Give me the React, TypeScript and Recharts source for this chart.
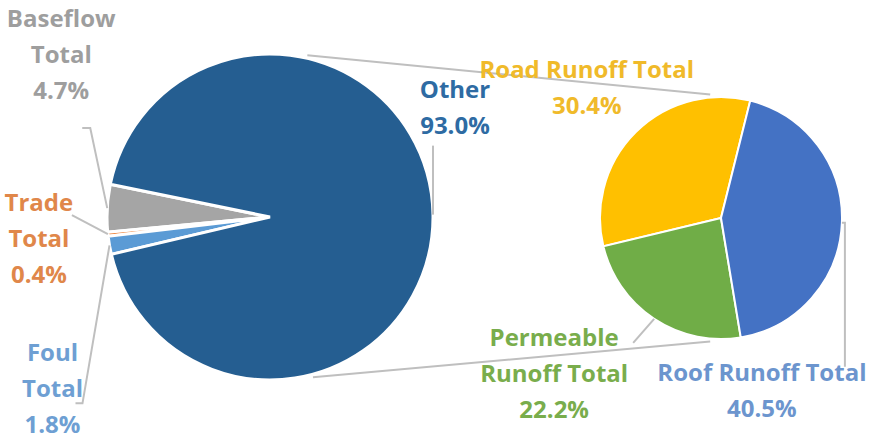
import React from "react";
import { PieChart, Pie, Cell, Customized } from "recharts";

// main pie (share of total flow)
const mainNames = ["Baseflow Total", "Trade Total", "Foul Total", "Other"];
const mainValues = [4.7, 0.4, 1.8, 93.0];
const mainColors = ["#A5A5A5", "#ED7D31", "#5B9BD5", "#255E91"];
const mainTextColors = ["#9E9E9E", "#E0874A", "#6E9FD3", "#2E6BA3"];

// secondary pie (breakdown of "Other")
const subNames = ["Road Runoff Total", "Permeable Runoff Total", "Roof Runoff Total"];
const subValues = [30.4, 22.2, 40.5];
const subColors = ["#FFC000", "#70AD47", "#4472C4"];
const subTextColors = ["#F0BA2A", "#79AD4C", "#6C95CE"];

const mainData = mainNames.map((name, i) => ({ name, value: mainValues[i] }));
const subData = subNames.map((name, i) => ({ name, value: subValues[i] }));

const MAIN = { cx: 270, cy: 217, r: 163, start: 168.4 };
const SUB = { cx: 721, cy: 218, r: 121, start: 76 };

const FONT = "'Open Sans', 'DejaVu Sans', sans-serif";
const LINE_GAP = 36;
const LEADER = "#BFBFBF";

// label layout, offsets from the point where the slice's mid angle meets the rim
type LabelLayout = { wrap: number[]; dx: number; dy: number; leader: [number, number][] };
const labelLayout: Record<string, LabelLayout> = {
  "Baseflow Total": { wrap: [1, 1], dx: -46, dy: -191, leader: [[-17, -80], [-25, -80]] },
  "Trade Total": { wrap: [1, 1], dx: -69, dy: -33, leader: [[-36, -19]] },
  "Foul Total": { wrap: [1, 1], dx: -57, dy: 106, leader: [[-27, 158], [-34, 158]] },
  Other: { wrap: [1], dx: 22, dy: -126, leader: [[0, -69]] },
  "Road Runoff Total": { wrap: [3], dx: -49, dy: -64, leader: [] },
  "Permeable Runoff Total": { wrap: [1, 2], dx: -100, dy: 18, leader: [[-21, 24]] },
  "Roof Runoff Total": { wrap: [3], dx: -80, dy: 149, leader: [[3, 0], [3, 144]] },
};

const RAD = Math.PI / 180;

function splitLines(name: string, wrap: number[]) {
  const words = name.split(" ");
  const out: string[] = [];
  let k = 0;
  wrap.forEach((n) => {
    out.push(words.slice(k, k + n).join(" "));
    k += n;
  });
  return out;
}

function makeLabel(textColors: string[]) {
  return (props: any) => {
    const { cx, cy, midAngle, outerRadius, index, name, value } = props;
    const lay = labelLayout[name];
    if (!lay) return null;
    const ex = cx + outerRadius * Math.cos(-midAngle * RAD);
    const ey = cy + outerRadius * Math.sin(-midAngle * RAD);
    const lines = [...splitLines(name, lay.wrap), `${Number(value).toFixed(1)}%`];
    const pts = [[ex, ey], ...lay.leader.map(([x, y]) => [ex + x, ey + y])];
    return (
      <g>
        {pts.length > 1 && (
          <polyline
            points={pts.map((p) => p.join(",")).join(" ")}
            fill="none"
            stroke={LEADER}
            strokeWidth={2}
          />
        )}
        {lines.map((t, i) => (
          <text
            key={i}
            x={ex + lay.dx}
            y={ey + lay.dy + i * LINE_GAP}
            textAnchor="middle"
            dominantBaseline="central"
            fill={textColors[index]}
            fontFamily={FONT}
            fontWeight={700}
            fontSize={24}
          >
            {t}
          </text>
        ))}
      </g>
    );
  };
}

// lines joining the two pies
const connectors = [
  { from: 77, to: 95 },
  { from: 285, to: 265 },
];

function Connectors() {
  return (
    <g>
      {connectors.map((c, i) => (
        <line
          key={i}
          x1={MAIN.cx + (MAIN.r + 3) * Math.cos(c.from * RAD)}
          y1={MAIN.cy - (MAIN.r + 3) * Math.sin(c.from * RAD)}
          x2={SUB.cx + (SUB.r + 3) * Math.cos(c.to * RAD)}
          y2={SUB.cy - (SUB.r + 3) * Math.sin(c.to * RAD)}
          stroke={LEADER}
          strokeWidth={2}
        />
      ))}
    </g>
  );
}

export default function App() {
  return (
    <div style={{ position: "absolute", left: 0, top: 0, width: 871, height: 440, background: "#fff" }}>
      <PieChart width={871} height={440} margin={{ top: 0, right: 0, bottom: 0, left: 0 }}>
        <Customized component={Connectors} />
        <Pie
          data={mainData}
          dataKey="value"
          nameKey="name"
          cx={MAIN.cx}
          cy={MAIN.cy}
          outerRadius={MAIN.r}
          startAngle={MAIN.start}
          endAngle={MAIN.start + 360}
          stroke="#fff"
          strokeWidth={3}
          labelLine={false}
          label={makeLabel(mainTextColors)}
          isAnimationActive={false}
        >
          {mainData.map((d, i) => (
            <Cell key={d.name} fill={mainColors[i]} />
          ))}
        </Pie>
        <Pie
          data={subData}
          dataKey="value"
          nameKey="name"
          cx={SUB.cx}
          cy={SUB.cy}
          outerRadius={SUB.r}
          startAngle={SUB.start}
          endAngle={SUB.start + 360}
          stroke="#fff"
          strokeWidth={2}
          labelLine={false}
          label={makeLabel(subTextColors)}
          isAnimationActive={false}
        >
          {subData.map((d, i) => (
            <Cell key={d.name} fill={subColors[i]} />
          ))}
        </Pie>
      </PieChart>
    </div>
  );
}
